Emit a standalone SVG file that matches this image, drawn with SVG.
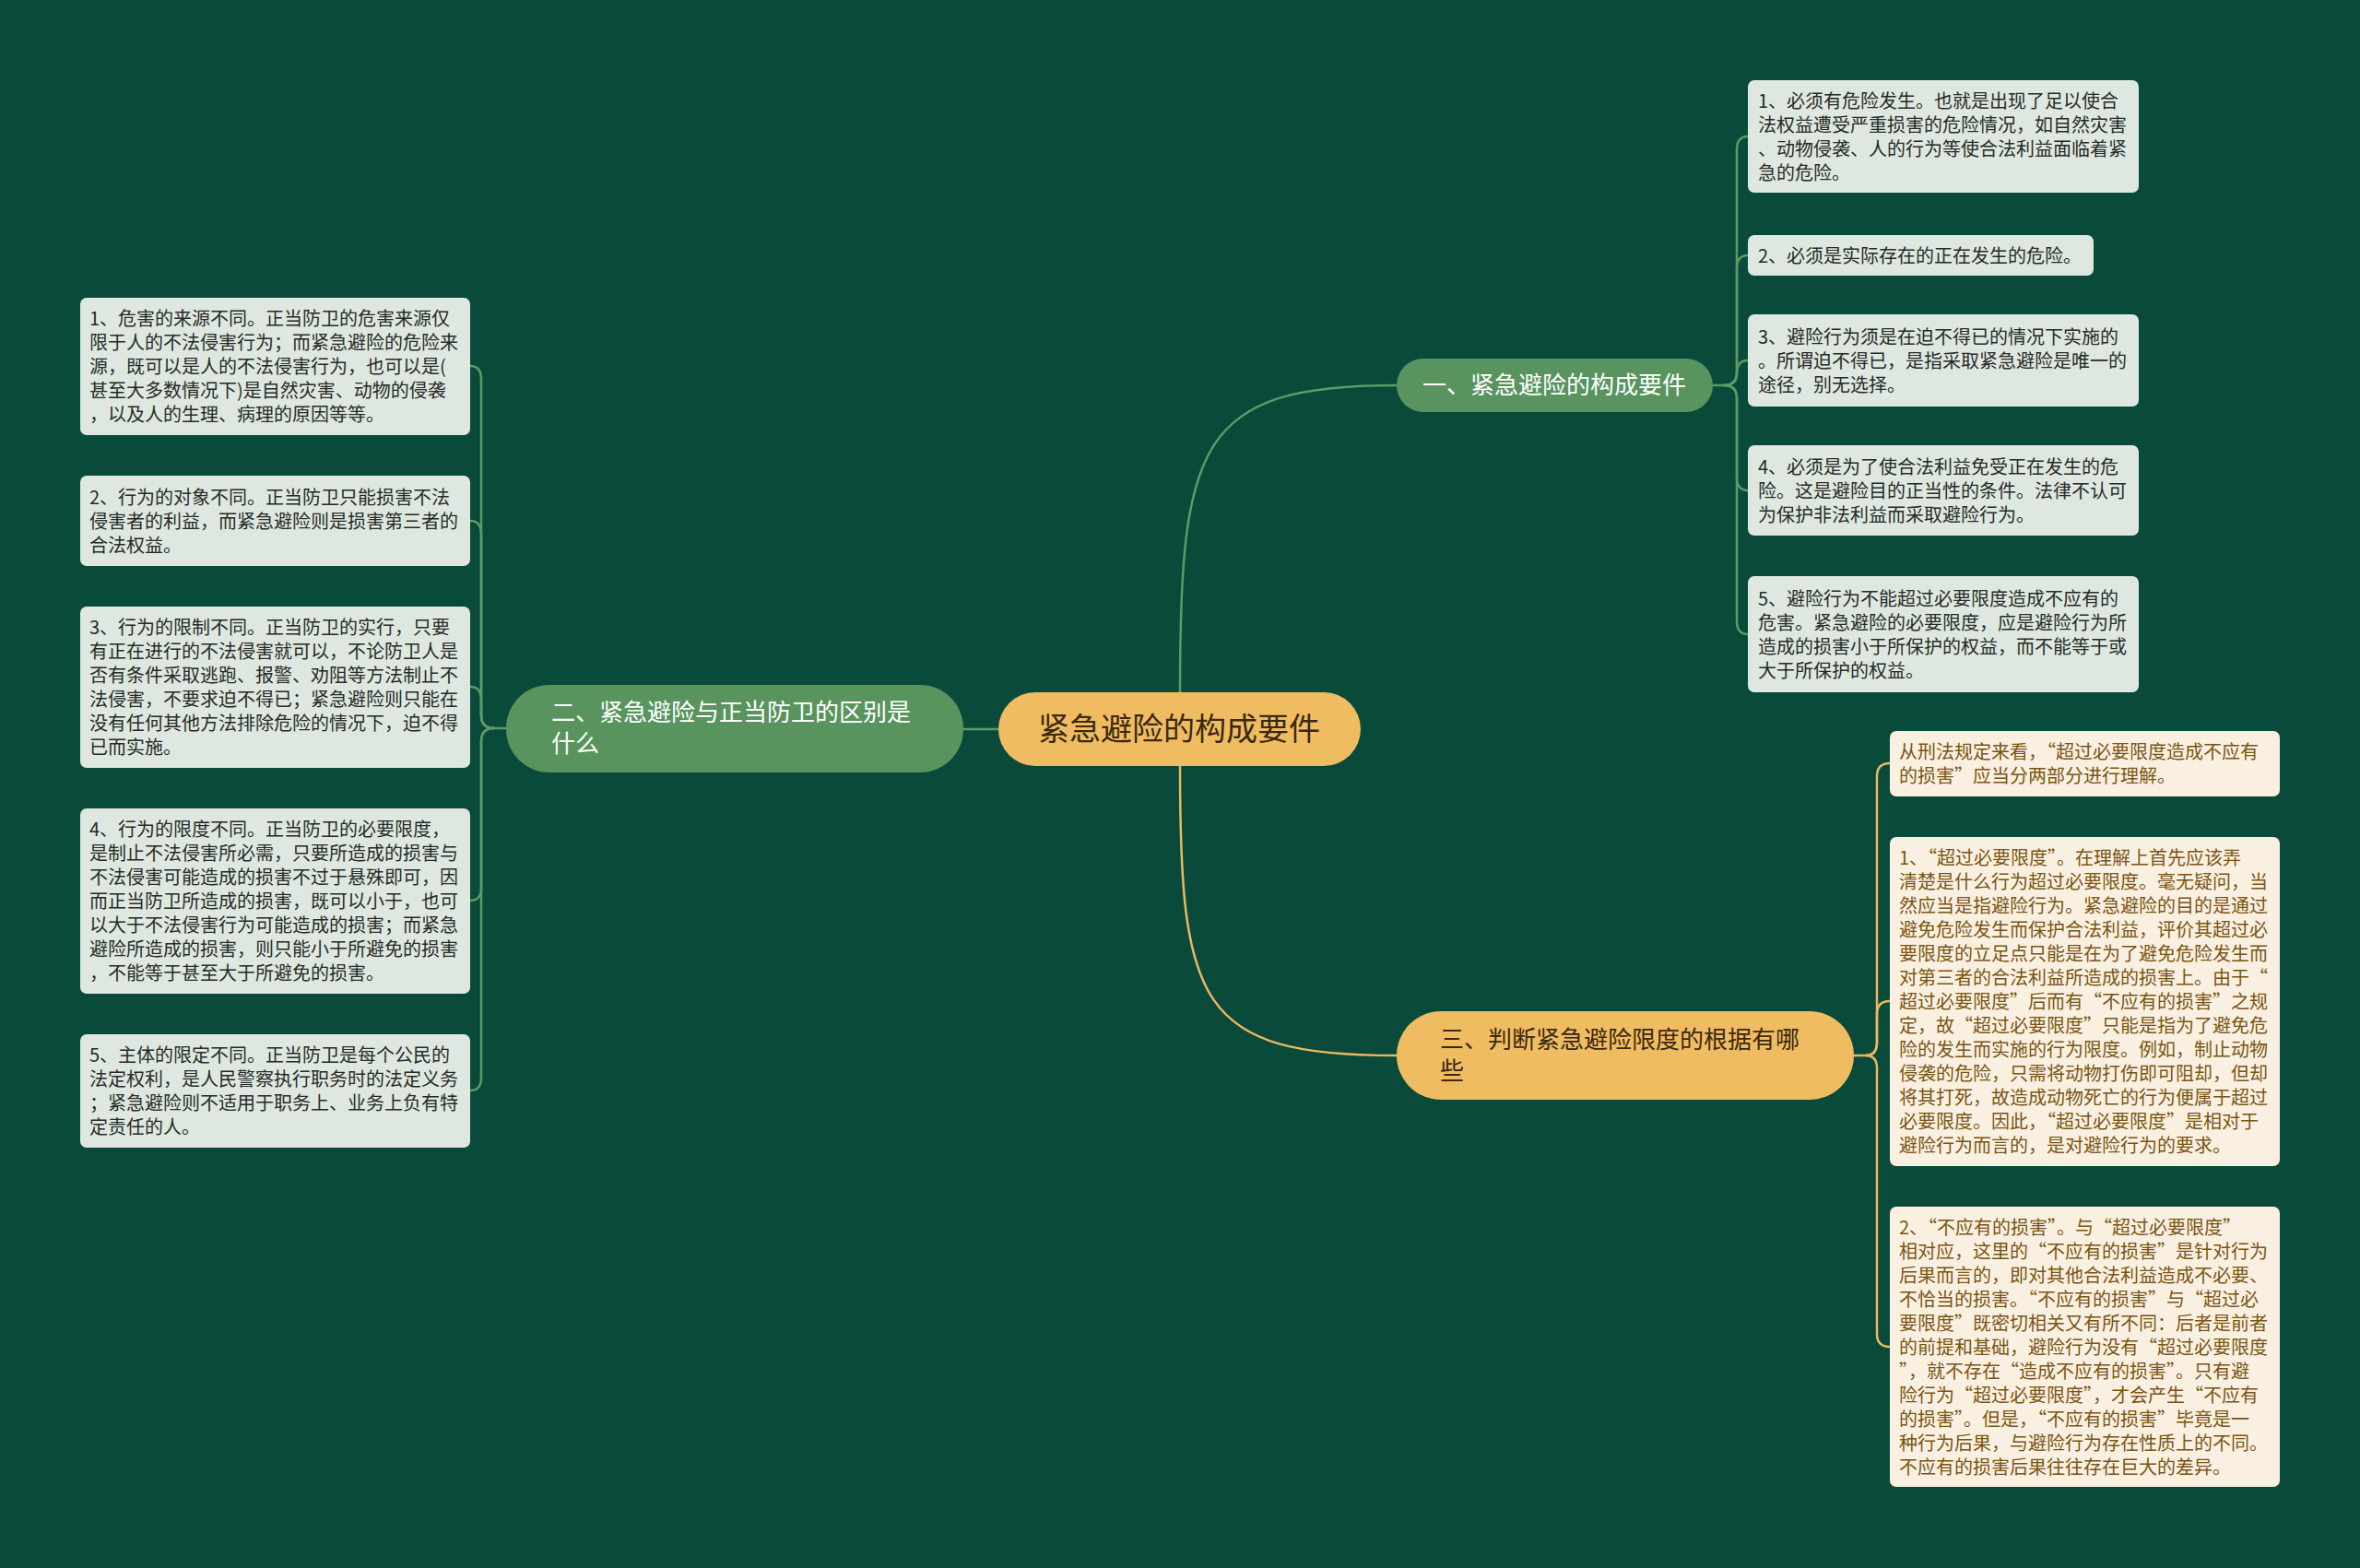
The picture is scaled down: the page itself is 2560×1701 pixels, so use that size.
<svg xmlns="http://www.w3.org/2000/svg" width="2560" height="1701" viewBox="0 0 2560 1701">
<style>
text{font-family:"Noto Sans CJK SC","Noto Sans",sans-serif;}
.lg{fill:#dfe8e0;}
.ly{fill:#faf0e1;}
.tg{font-size:20px;fill:#262b27;}
.ty{font-size:20px;fill:#7a5512;}
.q{font-feature-settings:"fwid" 1;}
.cg{fill:none;stroke:#5e9a66;stroke-width:2.5;}
.cy{fill:none;stroke:#e9b95f;stroke-width:2.5;}
.ng{fill:#59945f;}
.ny{fill:#f0bc62;}
.tn{font-size:26px;}
</style>
<rect x="0" y="0" width="2560" height="1701" fill="#0a4a3a"/>
<g id="connectors">
<path class="cg" d="M1280 751 C1280 480 1300 418 1515 418"/>
<path class="cy" d="M1280 831 C1280 1090 1300 1145 1515 1145"/>
<path class="cg" d="M1083 791 L1045 791"/>
<path class="cg" d="M1858 418 H1870 Q1884 418 1884 404 V162 Q1884 148 1896 148"/>
<path class="cg" d="M1870 418 Q1884 418 1884 404 V291 Q1884 277 1896 277"/>
<path class="cg" d="M1870 418 Q1884 418 1884 405 Q1884 391 1896 391"/>
<path class="cg" d="M1870 418 Q1884 418 1884 432 V518 Q1884 532 1896 532"/>
<path class="cg" d="M1870 418 Q1884 418 1884 432 V674 Q1884 688 1896 688"/>
<path class="cg" d="M549 790 H536 Q522 790 522 776 V411 Q522 397 510 397"/>
<path class="cg" d="M536 790 Q522 790 522 776 V579 Q522 565 510 565"/>
<path class="cg" d="M536 790 Q522 790 522 776 V759 Q522 745 510 745"/>
<path class="cg" d="M536 790 Q522 790 522 804 V963 Q522 977 510 977"/>
<path class="cg" d="M536 790 Q522 790 522 804 V1169 Q522 1183 510 1183"/>
<path class="cy" d="M2011 1145 H2024 Q2036 1145 2036 1131 V842 Q2036 828 2050 828"/>
<path class="cy" d="M2024 1145 Q2036 1145 2036 1131 V1100 Q2036 1086 2050 1086"/>
<path class="cy" d="M2024 1145 Q2036 1145 2036 1159 V1447 Q2036 1461 2050 1461"/>
</g>
<g id="root">
<rect class="ny" x="1083" y="751" width="393" height="80" rx="40"/>
<text x="1279" y="803" text-anchor="middle" font-size="34" fill="#3a2810">紧急避险的构成要件</text>
</g>
<g id="n1">
<rect class="ng" x="1515" y="389" width="343" height="58" rx="29"/>
<text class="tn" x="1686" y="427" text-anchor="middle" fill="#ffffff">一、紧急避险的构成要件</text>
</g>
<g id="n2">
<rect class="ng" x="549" y="743" width="496" height="95" rx="47"/>
<text class="tn" fill="#ffffff"><tspan x="598" y="782">二、紧急避险与正当防卫的区别是</tspan><tspan x="598" y="816">什么</tspan></text>
</g>
<g id="n3">
<rect class="ny" x="1515" y="1097" width="496" height="96" rx="48"/>
<text class="tn" fill="#3a2810"><tspan x="1562" y="1137">三、判断紧急避险限度的根据有哪</tspan><tspan x="1562" y="1171">些</tspan></text>
</g>
<g id="n1-1">
<rect class="lg" x="1896" y="87" width="424" height="122" rx="7"/>
<text class="tg"><tspan x="1907" y="117">1、必须有危险发生。也就是出现了足以使合</tspan><tspan x="1907" y="143">法权益遭受严重损害的危险情况，如自然灾害</tspan><tspan x="1907" y="169">、动物侵袭、人的行为等使合法利益面临着紧</tspan><tspan x="1907" y="195">急的危险。</tspan></text>
</g>
<g id="n1-2">
<rect class="lg" x="1896" y="255" width="375" height="44" rx="7"/>
<text class="tg"><tspan x="1907" y="285">2、必须是实际存在的正在发生的危险。</tspan></text>
</g>
<g id="n1-3">
<rect class="lg" x="1896" y="341" width="424" height="100" rx="7"/>
<text class="tg"><tspan x="1907" y="373">3、避险行为须是在迫不得已的情况下实施的</tspan><tspan x="1907" y="399">。所谓迫不得已，是指采取紧急避险是唯一的</tspan><tspan x="1907" y="425">途径，别无选择。</tspan></text>
</g>
<g id="n1-4">
<rect class="lg" x="1896" y="483" width="424" height="98" rx="7"/>
<text class="tg"><tspan x="1907" y="514">4、必须是为了使合法利益免受正在发生的危</tspan><tspan x="1907" y="540">险。这是避险目的正当性的条件。法律不认可</tspan><tspan x="1907" y="566">为保护非法利益而采取避险行为。</tspan></text>
</g>
<g id="n1-5">
<rect class="lg" x="1896" y="625" width="424" height="126" rx="7"/>
<text class="tg"><tspan x="1907" y="657">5、避险行为不能超过必要限度造成不应有的</tspan><tspan x="1907" y="683">危害。紧急避险的必要限度，应是避险行为所</tspan><tspan x="1907" y="709">造成的损害小于所保护的权益，而不能等于或</tspan><tspan x="1907" y="735">大于所保护的权益。</tspan></text>
</g>
<g id="n2-1">
<rect class="lg" x="87" y="323" width="423" height="149" rx="7"/>
<text class="tg"><tspan x="97" y="353">1、危害的来源不同。正当防卫的危害来源仅</tspan><tspan x="97" y="379">限于人的不法侵害行为；而紧急避险的危险来</tspan><tspan x="97" y="405">源，既可以是人的不法侵害行为，也可以是(</tspan><tspan x="97" y="431">甚至大多数情况下)是自然灾害、动物的侵袭</tspan><tspan x="97" y="457">，以及人的生理、病理的原因等等。</tspan></text>
</g>
<g id="n2-2">
<rect class="lg" x="87" y="516" width="423" height="98" rx="7"/>
<text class="tg"><tspan x="97" y="547">2、行为的对象不同。正当防卫只能损害不法</tspan><tspan x="97" y="573">侵害者的利益，而紧急避险则是损害第三者的</tspan><tspan x="97" y="599">合法权益。</tspan></text>
</g>
<g id="n2-3">
<rect class="lg" x="87" y="658" width="423" height="175" rx="7"/>
<text class="tg"><tspan x="97" y="688">3、行为的限制不同。正当防卫的实行，只要</tspan><tspan x="97" y="714">有正在进行的不法侵害就可以，不论防卫人是</tspan><tspan x="97" y="740">否有条件采取逃跑、报警、劝阻等方法制止不</tspan><tspan x="97" y="766">法侵害，不要求迫不得已；紧急避险则只能在</tspan><tspan x="97" y="792">没有任何其他方法排除危险的情况下，迫不得</tspan><tspan x="97" y="818">已而实施。</tspan></text>
</g>
<g id="n2-4">
<rect class="lg" x="87" y="877" width="423" height="201" rx="7"/>
<text class="tg"><tspan x="97" y="907">4、行为的限度不同。正当防卫的必要限度，</tspan><tspan x="97" y="933">是制止不法侵害所必需，只要所造成的损害与</tspan><tspan x="97" y="959">不法侵害可能造成的损害不过于悬殊即可，因</tspan><tspan x="97" y="985">而正当防卫所造成的损害，既可以小于，也可</tspan><tspan x="97" y="1011">以大于不法侵害行为可能造成的损害；而紧急</tspan><tspan x="97" y="1037">避险所造成的损害，则只能小于所避免的损害</tspan><tspan x="97" y="1063">，不能等于甚至大于所避免的损害。</tspan></text>
</g>
<g id="n2-5">
<rect class="lg" x="87" y="1122" width="423" height="123" rx="7"/>
<text class="tg"><tspan x="97" y="1152">5、主体的限定不同。正当防卫是每个公民的</tspan><tspan x="97" y="1178">法定权利，是人民警察执行职务时的法定义务</tspan><tspan x="97" y="1204">；紧急避险则不适用于职务上、业务上负有特</tspan><tspan x="97" y="1230">定责任的人。</tspan></text>
</g>
<g id="n3-1">
<rect class="ly" x="2050" y="793" width="423" height="71" rx="7"/>
<text class="ty"><tspan x="2060" y="823">从刑法规定来看，<tspan class="q">“</tspan>超过必要限度造成不应有</tspan><tspan x="2060" y="849">的损害<tspan class="q">”</tspan>应当分两部分进行理解。</tspan></text>
</g>
<g id="n3-2">
<rect class="ly" x="2050" y="908" width="423" height="357" rx="7"/>
<text class="ty"><tspan x="2060" y="938">1、<tspan class="q">“</tspan>超过必要限度<tspan class="q">”</tspan>。在理解上首先应该弄</tspan><tspan x="2060" y="964">清楚是什么行为超过必要限度。毫无疑问，当</tspan><tspan x="2060" y="990">然应当是指避险行为。紧急避险的目的是通过</tspan><tspan x="2060" y="1016">避免危险发生而保护合法利益，评价其超过必</tspan><tspan x="2060" y="1042">要限度的立足点只能是在为了避免危险发生而</tspan><tspan x="2060" y="1068">对第三者的合法利益所造成的损害上。由于<tspan class="q">“</tspan></tspan><tspan x="2060" y="1094">超过必要限度<tspan class="q">”</tspan>后而有<tspan class="q">“</tspan>不应有的损害<tspan class="q">”</tspan>之规</tspan><tspan x="2060" y="1120">定，故<tspan class="q">“</tspan>超过必要限度<tspan class="q">”</tspan>只能是指为了避免危</tspan><tspan x="2060" y="1146">险的发生而实施的行为限度。例如，制止动物</tspan><tspan x="2060" y="1172">侵袭的危险，只需将动物打伤即可阻却，但却</tspan><tspan x="2060" y="1198">将其打死，故造成动物死亡的行为便属于超过</tspan><tspan x="2060" y="1224">必要限度。因此，<tspan class="q">“</tspan>超过必要限度<tspan class="q">”</tspan>是相对于</tspan><tspan x="2060" y="1250">避险行为而言的，是对避险行为的要求。</tspan></text>
</g>
<g id="n3-3">
<rect class="ly" x="2050" y="1309" width="423" height="304" rx="7"/>
<text class="ty"><tspan x="2060" y="1339">2、<tspan class="q">“</tspan>不应有的损害<tspan class="q">”</tspan>。与<tspan class="q">“</tspan>超过必要限度<tspan class="q">”</tspan></tspan><tspan x="2060" y="1365">相对应，这里的<tspan class="q">“</tspan>不应有的损害<tspan class="q">”</tspan>是针对行为</tspan><tspan x="2060" y="1391">后果而言的，即对其他合法利益造成不必要、</tspan><tspan x="2060" y="1417">不恰当的损害。<tspan class="q">“</tspan>不应有的损害<tspan class="q">”</tspan>与<tspan class="q">“</tspan>超过必</tspan><tspan x="2060" y="1443">要限度<tspan class="q">”</tspan>既密切相关又有所不同：后者是前者</tspan><tspan x="2060" y="1469">的前提和基础，避险行为没有<tspan class="q">“</tspan>超过必要限度</tspan><tspan x="2060" y="1495"><tspan class="q">”</tspan>，就不存在<tspan class="q">“</tspan>造成不应有的损害<tspan class="q">”</tspan>。只有避</tspan><tspan x="2060" y="1521">险行为<tspan class="q">“</tspan>超过必要限度<tspan class="q">”</tspan>，才会产生<tspan class="q">“</tspan>不应有</tspan><tspan x="2060" y="1547">的损害<tspan class="q">”</tspan>。但是，<tspan class="q">“</tspan>不应有的损害<tspan class="q">”</tspan>毕竟是一</tspan><tspan x="2060" y="1573">种行为后果，与避险行为存在性质上的不同。</tspan><tspan x="2060" y="1599">不应有的损害后果往往存在巨大的差异。</tspan></text>
</g>
</svg>
